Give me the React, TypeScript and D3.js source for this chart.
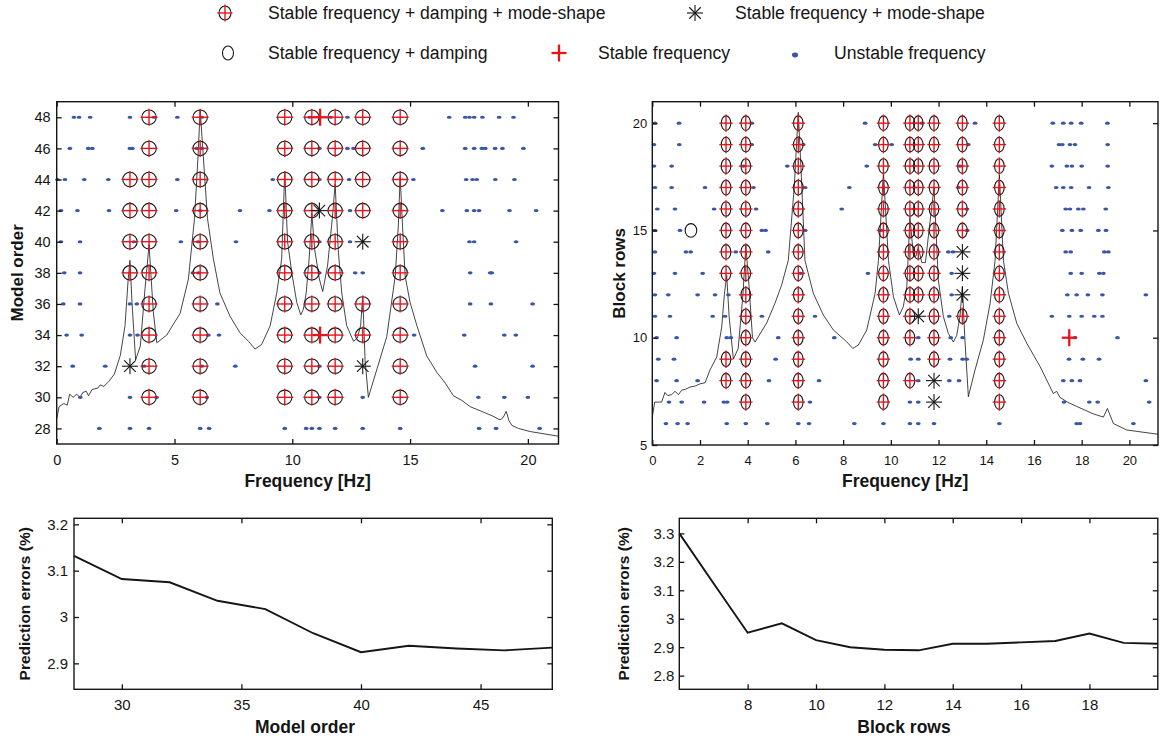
import * as d3 from "d3";
import { useEffect, useRef } from "react";

// ---- 上左: model order 穩定圖 ----
const modelOrders = [48, 46, 44, 42, 40, 38, 36, 34, 32, 30, 28];
const orderStableAll = [
  [3.92, 6.09, 9.68, 10.83, 11.82, 12.99, 14.58],
  [3.92, 6.09, 9.68, 10.83, 11.82, 12.99, 14.58],
  [3.11, 3.92, 6.09, 9.68, 10.83, 11.82, 12.99, 14.58],
  [3.11, 3.92, 6.09, 9.68, 10.83, 11.82, 12.99, 14.58],
  [3.11, 3.92, 6.09, 9.68, 10.83, 11.82, 14.58],
  [3.11, 3.92, 6.09, 9.68, 10.83, 11.82, 14.58],
  [3.92, 6.09, 9.68, 10.83, 11.82, 12.99, 14.58],
  [3.92, 6.09, 9.68, 10.83, 11.82, 12.99, 14.58],
  [3.92, 6.09, 9.68, 10.83, 11.82, 14.58],
  [3.92, 6.09, 9.68, 10.83, 11.82, 14.58],
  [],
];
const orderStableMode = [[], [], [], [11.15], [12.99], [], [], [], [3.11, 12.99], [], []];
const orderStableFreq = [[11.18], [], [], [], [], [], [], [11.18], [], [], []];
const orderUnstable = [
  [0.73, 0.95, 1.42, 3.11, 4.13, 5.12, 6.16, 10.73, 11.63, 12.34, 16.66, 17.34, 17.52, 17.72, 18.07, 18.78, 19.39],
  [0.56, 1.34, 1.51, 3.11, 3.21, 5.94, 6.16, 11.15, 12.34, 12.6, 15.54, 17.34, 17.72, 18.05, 18.19, 18.61, 18.92, 19.81],
  [0.03, 0.35, 1.17, 2.19, 5.12, 9.17, 11.15, 12.41, 15.14, 17.38, 17.65, 17.83, 18.62, 19.43],
  [0.18, 0.88, 2.22, 5.07, 6.09, 7.78, 9.03, 12.45, 16.37, 17.41, 17.72, 17.93, 19.22, 20.35],
  [0.18, 0.99, 3.28, 5.27, 6.0, 7.61, 11.15, 12.45, 17.52, 17.72, 19.5],
  [0.32, 0.99, 5.78, 6.01, 11.15, 12.67, 12.99, 17.55, 18.4, 18.47],
  [0.28, 0.99, 3.11, 3.4, 6.82, 17.55, 18.43, 20.2],
  [0.42, 1.06, 3.11, 3.43, 6.44, 6.89, 15.17, 17.3, 19.0, 19.49],
  [0.68, 2.06, 3.71, 6.16, 7.58, 11.15, 17.76, 20.2],
  [1.0, 3.11, 4.24, 6.37, 11.15, 12.99, 17.9, 19.0, 20.0],
  [1.81, 3.11, 3.92, 6.09, 6.47, 9.68, 10.59, 10.83, 11.15, 11.82, 12.99, 14.58, 17.93, 18.65, 20.5],
];
const orderSpectrum: [number, number][] = [
  [0, 28.6], [0.1, 29.4], [0.3, 29.6], [0.45, 29.5], [0.55, 30.2], [0.7, 30.0], [0.85, 30.2], [1.0, 30.0],
  [1.1, 30.3], [1.25, 30.4], [1.35, 30.1], [1.5, 30.5], [1.75, 30.6], [1.85, 30.8], [2.0, 30.7], [2.2, 31.0],
  [2.45, 31.5], [2.7, 32.7], [2.9, 34.6], [3.03, 37.5], [3.11, 38.8], [3.2, 36], [3.35, 32.4], [3.55, 33.3],
  [3.75, 37], [3.92, 39.8], [4.1, 35.5], [4.25, 33.5], [4.67, 34.0], [5.24, 35.4], [5.59, 37.6], [5.85, 41.5],
  [6.0, 45.5], [6.09, 48.5], [6.2, 46], [6.4, 41.5], [6.65, 38.9], [6.93, 36.7], [7.36, 35.2], [7.78, 34.15],
  [8.14, 33.6], [8.42, 33.1], [8.7, 33.4], [9.06, 34.6], [9.34, 36.7], [9.55, 38.9], [9.68, 44.5], [9.8, 40],
  [9.98, 38.0], [10.19, 36.1], [10.36, 35.3], [10.47, 35.65], [10.59, 36.7], [10.72, 39], [10.83, 41.8],
  [10.95, 39.5], [11.15, 37.6], [11.29, 36.8], [11.5, 38.5], [11.7, 41.5], [11.82, 43.7], [11.95, 39.5],
  [12.1, 36.7], [12.31, 34.6], [12.6, 33.6], [12.76, 33.8], [12.9, 34.6], [12.99, 36.5], [13.09, 32.4],
  [13.23, 30.0], [13.59, 31.8], [14.01, 33.9], [14.37, 37.8], [14.5, 41], [14.58, 44.2], [14.68, 41],
  [14.79, 37.8], [15.0, 36.1], [15.29, 34.6], [15.71, 32.65], [16.14, 31.6], [16.5, 30.9], [16.84, 30.1],
  [17.2, 29.8], [17.55, 29.4], [18.11, 29.05], [18.5, 28.8], [18.82, 28.55], [18.95, 28.7], [19.08, 29.1],
  [19.2, 28.5], [19.32, 28.2], [19.6, 28.0], [20.1, 27.8], [21.3, 27.5],
];

// ---- 上右: block rows 穩定圖 ----
const blockRows = [20, 19, 18, 17, 16, 15, 14, 13, 12, 11, 10, 9, 8, 7, 6];
const rowsStableAll = [
  [3.09, 3.92, 6.12, 9.69, 10.8, 11.15, 11.81, 13.0, 14.55],
  [3.09, 3.92, 6.12, 9.69, 10.8, 11.15, 11.81, 13.0, 14.55],
  [3.09, 3.92, 6.12, 9.69, 10.8, 11.15, 11.81, 13.0, 14.55],
  [3.09, 3.92, 6.12, 9.69, 10.8, 11.15, 11.81, 13.0, 14.55],
  [3.09, 3.92, 6.12, 9.69, 10.8, 11.15, 11.81, 13.0, 14.55],
  [3.09, 3.92, 6.12, 9.69, 10.8, 11.15, 11.81, 13.0, 14.55],
  [3.09, 3.92, 6.12, 9.69, 10.8, 11.15, 11.81, 14.55],
  [3.09, 3.92, 6.12, 9.69, 10.8, 11.15, 11.81, 14.55],
  [3.92, 6.12, 9.69, 10.8, 11.15, 11.81, 14.55],
  [3.92, 6.12, 9.69, 10.8, 11.81, 13.0, 14.55],
  [3.92, 6.12, 9.69, 10.8, 11.81, 14.55],
  [3.09, 3.92, 6.12, 9.69, 11.81, 14.55],
  [3.09, 3.92, 6.12, 9.69, 10.8, 14.55],
  [3.92, 6.12, 9.69, 14.55],
  [],
];
const rowsStableMode = [[], [], [], [], [], [], [13.0], [13.0], [13.0], [11.15], [], [], [11.81], [11.81], []];
const rowsStableDamp = [[], [], [], [], [], [1.62], [], [], [], [], [], [], [], [], []];
const rowsStableFreq = [[], [], [], [], [], [], [], [], [], [], [17.48], [], [], [], []];
const rowsUnstable = [
  [0.11, 1.12, 4.17, 8.92, 11.3, 13.53, 16.79, 17.23, 17.56, 17.98, 19.08],
  [0.07, 1.13, 4.17, 6.33, 9.34, 10.04, 13.25, 17.05, 17.19, 17.51, 17.72, 19.09],
  [0.07, 0.81, 3.82, 5.66, 8.99, 12.9, 16.75, 17.38, 17.59, 18.0, 19.09],
  [0.11, 0.81, 2.21, 4.24, 6.41, 8.26, 12.83, 16.93, 17.23, 17.56, 18.31, 19.12],
  [0.21, 0.95, 2.59, 4.35, 7.94, 13.18, 17.33, 17.51, 17.86, 18.07, 19.01],
  [0.11, 1.16, 4.59, 4.75, 6.41, 9.58, 13.2, 17.19, 17.59, 17.96, 18.7, 19.02],
  [0.11, 1.41, 1.61, 3.5, 4.86, 12.41, 12.6, 17.33, 17.54, 18.95, 19.12],
  [0.07, 0.95, 2.11, 6.21, 9.04, 12.55, 17.54, 18.0, 18.74, 18.91],
  [0.11, 0.67, 1.9, 2.63, 3.19, 12.55, 17.4, 17.79, 18.26, 18.87, 20.69],
  [0.11, 0.74, 2.53, 3.05, 4.59, 6.82, 12.45, 16.75, 17.48, 18.0, 18.53, 18.87],
  [0.18, 1.02, 3.12, 3.29, 5.28, 7.63, 11.15, 12.51, 13.01, 17.72, 19.5],
  [0.25, 0.91, 5.17, 10.83, 11.15, 12.48, 13.01, 13.18, 17.47, 18.05, 18.73],
  [0.18, 1.02, 1.9, 4.89, 6.99, 11.15, 12.45, 12.86, 17.23, 17.59, 17.93, 20.69],
  [0.7, 1.23, 2.17, 3.0, 3.14, 6.61, 10.8, 11.15, 17.26, 18.32, 18.67, 20.83],
  [0.57, 1.06, 1.48, 3.12, 3.92, 4.82, 6.12, 6.57, 8.47, 9.69, 10.8, 11.15, 11.81, 14.55, 17.79, 17.93, 20.17],
];
const rowsSpectrum: [number, number][] = [
  [0, 6.3], [0.1, 7.0], [0.39, 7.0], [0.53, 7.45], [0.65, 7.3], [0.81, 7.35], [0.95, 7.5], [1.1, 7.35],
  [1.23, 7.55], [1.4, 7.6], [1.58, 7.7], [1.8, 7.75], [2.0, 7.85], [2.21, 7.9], [2.42, 8.5], [2.7, 9.1],
  [2.91, 10.5], [3.02, 12], [3.12, 12.9], [3.22, 11], [3.4, 9.0], [3.6, 9.5], [3.8, 12], [3.92, 14.3],
  [4.05, 12.5], [4.2, 10.0], [4.31, 9.8], [4.8, 10.7], [5.14, 11.6], [5.42, 12.45], [5.7, 13.6], [5.95, 17],
  [6.12, 20.5], [6.25, 17.5], [6.4, 13.6], [6.75, 12.07], [7.17, 11.06], [7.59, 10.36], [8.15, 9.81],
  [8.4, 9.5], [8.64, 9.66], [8.99, 10.36], [9.34, 12.07], [9.48, 13.6], [9.69, 17.7], [9.9, 13.6],
  [10.11, 11.9], [10.36, 11.06], [10.52, 11.44], [10.67, 12.38], [10.8, 15.6], [10.95, 13.8], [11.05, 13.8],
  [11.15, 14.2], [11.3, 13.5], [11.45, 13.5], [11.6, 15], [11.81, 17.0], [11.99, 12.7], [12.2, 11.0],
  [12.41, 10.2], [12.62, 9.8], [12.76, 10.1], [12.9, 11.0], [13.0, 12.4], [13.1, 10], [13.25, 7.25],
  [13.53, 8.5], [13.88, 9.9], [14.16, 11.6], [14.37, 13.6], [14.55, 17.6], [14.72, 13.6], [14.93, 12.07],
  [15.28, 10.67], [15.7, 9.74], [16.26, 8.65], [16.81, 7.4], [16.95, 7.5], [17.09, 7.22], [17.4, 7.0],
  [17.79, 6.8], [18.49, 6.45], [18.91, 6.3], [19.08, 6.7], [19.33, 6.0], [19.89, 5.7], [21.2, 5.5],
];

// ---- 下方: prediction errors ----
const errOrders = [28, 30, 32, 34, 36, 38, 40, 42, 44, 46, 48];
const errOrderValues = [3.132, 3.082, 3.075, 3.035, 3.017, 2.965, 2.924, 2.938, 2.932, 2.928, 2.934];
const errRows = [6, 7, 8, 9, 10, 11, 12, 13, 14, 15, 16, 17, 18, 19, 20];
const errRowValues = [3.3, 3.125, 2.951, 2.984, 2.925, 2.9, 2.891, 2.889, 2.912, 2.912, 2.917, 2.922, 2.948, 2.915, 2.912];

// ---- 刻度 ----
const orderTicksX = [0, 5, 10, 15, 20];
const orderTicksY = [28, 30, 32, 34, 36, 38, 40, 42, 44, 46, 48];
const rowsTicksX = [0, 2, 4, 6, 8, 10, 12, 14, 16, 18, 20];
const rowsTicksY = [5, 10, 15, 20];
const errOrderTicksX = [30, 35, 40, 45];
const errOrderTicksY = [2.9, 3, 3.1, 3.2];
const errRowTicksX = [8, 10, 12, 14, 16, 18];
const errRowTicksY = [2.8, 2.9, 3, 3.1, 3.2, 3.3];

const legendLabels = [
  "Stable frequency + damping + mode-shape",
  "Stable frequency + mode-shape",
  "Stable frequency + damping",
  "Stable frequency",
  "Unstable frequency",
];

const FONT = "'Liberation Sans', Arial, Helvetica, sans-serif";
const RED = "#e8141c";
const BLUE = "#3a55a3";
const INK = "#151515";

type Box = { left: number; top: number; right: number; bottom: number };
type Sel = d3.Selection<any, unknown, null, undefined>;

function frame(svg: Sel, box: Box, x: any, y: any, xt: number[], yt: number[], xPad: number, yPad: number, fs: number) {
  const g = svg.append("g");
  const style = (a: Sel) => {
    a.select(".domain").remove();
    a.selectAll("line").attr("stroke", INK).attr("stroke-width", 1.3);
    a.selectAll("text").attr("font-family", FONT).attr("font-size", fs).attr("fill", INK);
  };
  const fmt = (d: any) => String(d);
  g.append("g").attr("transform", `translate(0,${box.bottom})`)
    .call(d3.axisBottom(x).tickValues(xt).tickSize(-5).tickSizeOuter(0).tickPadding(xPad).tickFormat(fmt)).call(style);
  g.append("g").attr("transform", `translate(0,${box.top})`)
    .call(d3.axisTop(x).tickValues(xt).tickSize(-5).tickSizeOuter(0).tickFormat(() => "")).call(style);
  g.append("g").attr("transform", `translate(${box.left},0)`)
    .call(d3.axisLeft(y).tickValues(yt).tickSize(-5).tickSizeOuter(0).tickPadding(yPad).tickFormat(fmt)).call(style);
  g.append("g").attr("transform", `translate(${box.right},0)`)
    .call(d3.axisRight(y).tickValues(yt).tickSize(-5).tickSizeOuter(0).tickFormat(() => "")).call(style);
  g.append("rect")
    .attr("x", box.left).attr("y", box.top)
    .attr("width", box.right - box.left).attr("height", box.bottom - box.top)
    .attr("fill", "none").attr("stroke", INK).attr("stroke-width", 1.4);
}

function title(svg: Sel, txt: string, x: number, y: number, fs: number, rotate = false) {
  const t = svg.append("text")
    .attr("font-family", FONT).attr("font-weight", 700).attr("font-size", fs)
    .attr("fill", INK).attr("text-anchor", "middle").text(txt);
  if (rotate) t.attr("transform", `translate(${x},${y}) rotate(-90)`).attr("dominant-baseline", "central");
  else t.attr("x", x).attr("y", y);
}

// ---- 標記 ----
function markFull(g: Sel, cx: number, cy: number, rx: number, ry: number, ax: number, ay: number) {
  g.append("ellipse").attr("cx", cx).attr("cy", cy).attr("rx", rx).attr("ry", ry)
    .attr("fill", "none").attr("stroke", INK).attr("stroke-width", 1.1);
  markPlus(g, cx, cy, ax, ay, 1.4);
}
function markPlus(g: Sel, cx: number, cy: number, ax: number, ay: number, w: number) {
  g.append("line").attr("x1", cx - ax).attr("x2", cx + ax).attr("y1", cy).attr("y2", cy)
    .attr("stroke", RED).attr("stroke-width", w);
  g.append("line").attr("x1", cx).attr("x2", cx).attr("y1", cy - ay).attr("y2", cy + ay)
    .attr("stroke", RED).attr("stroke-width", w);
}
function markStar(g: Sel, cx: number, cy: number, r: number) {
  const d = r * 0.72;
  [[-r, 0, r, 0], [0, -r, 0, r], [-d, -d, d, d], [-d, d, d, -d]].forEach(([a, b, c, e]) => {
    g.append("line").attr("x1", cx + a).attr("y1", cy + b).attr("x2", cx + c).attr("y2", cy + e)
      .attr("stroke", INK).attr("stroke-width", 1.1);
  });
}
function markDot(g: Sel, cx: number, cy: number, rx = 2.4, ry = 1.6) {
  g.append("ellipse").attr("cx", cx).attr("cy", cy).attr("rx", rx).attr("ry", ry).attr("fill", BLUE);
}

function stabilization(
  svg: Sel, x: any, y: any, levels: number[],
  all: number[][], mode: number[][], damp: number[][], freq: number[][], unstable: number[][],
  spectrum: [number, number][], rx: number, ry: number, ax: number, ay: number,
) {
  svg.append("path").datum(spectrum)
    .attr("d", d3.line<[number, number]>().x(d => x(d[0])).y(d => y(d[1])))
    .attr("fill", "none").attr("stroke", INK).attr("stroke-width", 0.8);
  const g = svg.append("g");
  levels.forEach((lv, i) => {
    unstable[i].forEach(f => markDot(g, x(f), y(lv)));
    all[i].forEach(f => markFull(g, x(f), y(lv), rx, ry, ax, ay));
    damp[i].forEach(f => g.append("ellipse").attr("cx", x(f)).attr("cy", y(lv)).attr("rx", rx + 1).attr("ry", ry - 0.5)
      .attr("fill", "none").attr("stroke", INK).attr("stroke-width", 1.1));
    mode[i].forEach(f => markStar(g, x(f), y(lv), 8));
    freq[i].forEach(f => markPlus(g, x(f), y(lv), 7.5, 8.5, 2.3));
  });
}

export default function App() {
  const ref = useRef<SVGSVGElement>(null);

  useEffect(() => {
    document.body.style.margin = "0";
    const svg = d3.select(ref.current) as unknown as Sel;
    svg.selectAll("*").remove();

    // ---- 圖例 ----
    const lg = svg.append("g");
    markFull(lg, 225, 13, 6, 7, 7.5, 8.5);
    markStar(lg, 695, 13, 8);
    lg.append("ellipse").attr("cx", 228).attr("cy", 53).attr("rx", 5.5).attr("ry", 7)
      .attr("fill", "none").attr("stroke", INK).attr("stroke-width", 1.1);
    markPlus(lg, 559, 53, 7.5, 8.5, 2.3);
    markDot(lg, 795, 55, 3, 2.4);
    const lx = [268, 735, 268, 598, 834];
    const ly = [13, 13, 53, 53, 53];
    legendLabels.forEach((t, i) => {
      lg.append("text").attr("x", lx[i]).attr("y", ly[i]).attr("dominant-baseline", "central")
        .attr("font-family", FONT).attr("font-size", 17.6).attr("fill", INK).text(t);
    });

    // ---- 上左 ----
    const bTL = { left: 56.7, top: 101.7, right: 558.5, bottom: 444 };
    const xTL = d3.scaleLinear().domain([0, 21.3]).range([bTL.left, bTL.right]);
    const yTL = d3.scaleLinear().domain([27, 49]).range([bTL.bottom, bTL.top]);
    stabilization(svg, xTL, yTL, modelOrders, orderStableAll, orderStableMode,
      modelOrders.map(() => []), orderStableFreq, orderUnstable, orderSpectrum, 7.2, 7.2, 8.5, 8.5);
    frame(svg, bTL, xTL, yTL, orderTicksX, orderTicksY, 11, 6, 14.5);
    title(svg, "Frequency [Hz]", (bTL.left + bTL.right) / 2, 486.5, 17.5);
    title(svg, "Model order", 17, (bTL.top + bTL.bottom) / 2, 17, true);

    // ---- 上右 ----
    const bTR = { left: 652.3, top: 101.7, right: 1158, bottom: 445 };
    const xTR = d3.scaleLinear().domain([0, 21.2]).range([bTR.left, bTR.right]);
    const yTR = d3.scaleLinear().domain([5, 21]).range([bTR.bottom, bTR.top]);
    stabilization(svg, xTR, yTR, blockRows, rowsStableAll, rowsStableMode, rowsStableDamp,
      rowsStableFreq, rowsUnstable, rowsSpectrum, 4.8, 7.3, 6.7, 8.7);
    frame(svg, bTR, xTR, yTR, rowsTicksX, rowsTicksY, 11, 5, 13);
    title(svg, "Frequency [Hz]", (bTR.left + bTR.right) / 2, 486.5, 17.5);
    title(svg, "Block rows", 619, (bTR.top + bTR.bottom) / 2, 17, true);

    // ---- 下左 ----
    const bBL = { left: 74, top: 518.3, right: 552.3, bottom: 689.3 };
    const xBL = d3.scaleLinear().domain([28, 48]).range([bBL.left, bBL.right]);
    const yBL = d3.scaleLinear().domain([2.844, 3.213]).range([bBL.bottom, bBL.top]);
    svg.append("path").datum(errOrders)
      .attr("d", d3.line<number>().x(d => xBL(d)).y((_, i) => yBL(errOrderValues[i])))
      .attr("fill", "none").attr("stroke", INK).attr("stroke-width", 1.9);
    frame(svg, bBL, xBL, yBL, errOrderTicksX, errOrderTicksY, 10, 6, 15);
    title(svg, "Model order", 305, 733, 17.5);
    title(svg, "Prediction errors (%)", 24, (bBL.top + bBL.bottom) / 2, 15.5, true);

    // ---- 下右 ----
    const bBR = { left: 679.3, top: 518.3, right: 1157.8, bottom: 689.3 };
    const xBR = d3.scaleLinear().domain([6, 20]).range([bBR.left, bBR.right]);
    const yBR = d3.scaleLinear().domain([2.752, 3.353]).range([bBR.bottom, bBR.top]);
    svg.append("path").datum(errRows)
      .attr("d", d3.line<number>().x(d => xBR(d)).y((_, i) => yBR(errRowValues[i])))
      .attr("fill", "none").attr("stroke", INK).attr("stroke-width", 1.9);
    frame(svg, bBR, xBR, yBR, errRowTicksX, errRowTicksY, 10, 5, 15);
    title(svg, "Block rows", 904, 733, 17.5);
    title(svg, "Prediction errors (%)", 623, (bBR.top + bBR.bottom) / 2, 15.5, true);
  }, []);

  return <svg ref={ref} width={1160} height={743} style={{ display: "block", background: "#fff" }} />;
}
